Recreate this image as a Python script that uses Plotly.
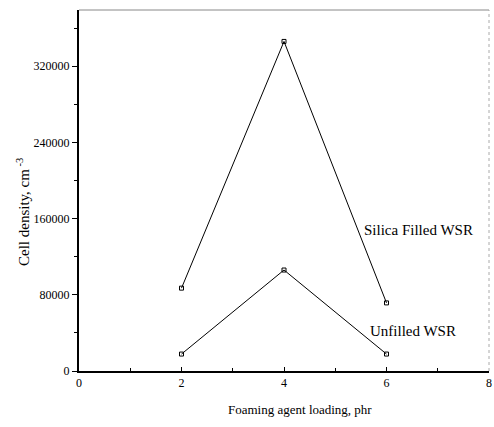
import plotly.graph_objects as go

loading = [2, 4, 6]
silica_filled = [87000, 346000, 71500]
unfilled = [17800, 106000, 17800]
x_ticks = [0, 2, 4, 6, 8]
y_ticks = [0, 80000, 160000, 240000, 320000]

font = "Liberation Serif, Times New Roman, serif"
fig = go.Figure()
for name, vals in [("Silica Filled WSR", silica_filled), ("Unfilled WSR", unfilled)]:
    fig.add_trace(go.Scatter(x=loading, y=vals, mode="lines+markers", name=name,
                             line=dict(color="black", width=1),
                             marker=dict(symbol="square-open", size=4, color="black", line=dict(width=1))))

fig.add_annotation(x=6.62, y=148000, text="Silica Filled WSR", showarrow=False,
                   font=dict(family=font, size=15, color="black"), xanchor="center", yanchor="middle")
fig.add_annotation(x=6.51, y=42000, text="Unfilled WSR", showarrow=False,
                   font=dict(family=font, size=15, color="black"), xanchor="center", yanchor="middle")
# axis titles
fig.add_annotation(xref="paper", yref="paper", x=-0.137, y=0.44, text="Cell density, cm<sup> -3</sup>",
                   textangle=-90, showarrow=False, xanchor="center", yanchor="middle",
                   font=dict(family=font, size=15, color="black"))
fig.add_annotation(xref="paper", yref="paper", x=0.54, y=-0.107, text="Foaming agent loading, phr",
                   showarrow=False, xanchor="center", yanchor="middle",
                   font=dict(family=font, size=13, color="black"))

fig.update_layout(
    width=494, height=427, margin=dict(l=79, r=2, t=10, b=56),
    paper_bgcolor="white", plot_bgcolor="white", showlegend=False,
    font=dict(family=font, size=12, color="black"),
    xaxis=dict(range=[0, 8], tickvals=x_ticks, ticktext=[str(v) for v in x_ticks],
               ticks="inside", ticklen=4, tickwidth=1, tickcolor="black",
               minor=dict(dtick=1, ticks="inside", ticklen=3, tickcolor="black"),
               showline=True, linecolor="black", linewidth=2, mirror=False,
               showgrid=False, zeroline=False, ticklabeloverflow="allow"),
    yaxis=dict(range=[0, 379000], tickvals=y_ticks, ticktext=[str(v) for v in y_ticks],
               ticks="outside", ticklen=5, tickwidth=1, tickcolor="black",
               minor=dict(dtick=40000, ticks="outside", ticklen=3, tickcolor="black"),
               showline=True, linecolor="black", linewidth=2,
               showgrid=False, zeroline=False),
)
# faint top/right frame
fig.add_shape(type="line", xref="paper", yref="paper", x0=0, x1=1, y0=1, y1=1,
              line=dict(color="#888888", width=1))
fig.add_shape(type="line", xref="paper", yref="paper", x0=1, x1=1, y0=0, y1=1,
              line=dict(color="#aaaaaa", width=1, dash="dot"))
fig.write_html("out.html")
